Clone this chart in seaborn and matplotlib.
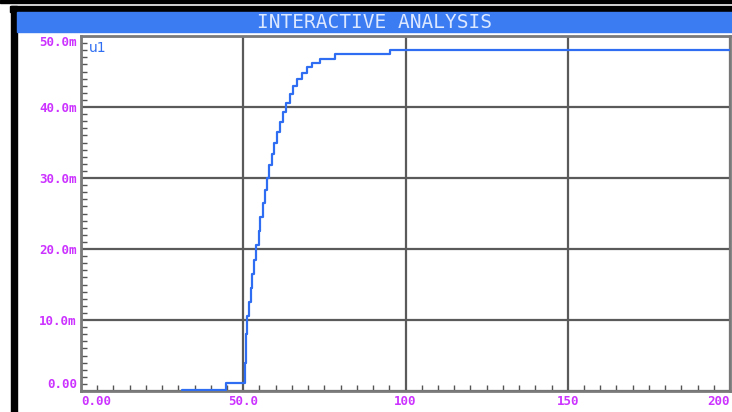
import numpy as np
import pandas as pd
import matplotlib
matplotlib.use("Agg")
import matplotlib.pyplot as plt
import seaborn as sns
from matplotlib.patches import Rectangle
from matplotlib.ticker import MultipleLocator

# ---- data (time vs u1, values in milli-units) ----
tiempo = [31.0, 44.7, 50.4, 50.8, 51.3, 51.8, 52.3, 52.8, 53.4, 54.0, 54.7,
          55.3, 56.0, 56.6, 57.3, 58.0, 58.8, 59.6, 60.4, 61.3, 62.2, 63.2,
          64.3, 65.4, 66.6, 68.0, 69.6, 71.2, 73.5, 78.2, 95.2, 200.0]
u1 = [0.2, 1.1, 4.0, 8.0, 10.5, 12.5, 14.5, 16.5, 18.5, 20.5, 22.5,
      24.5, 26.5, 28.3, 30.0, 31.8, 33.4, 35.0, 36.5, 37.9, 39.3, 40.6,
      41.8, 42.9, 43.9, 44.8, 45.6, 46.2, 46.8, 47.4, 48.0, 48.0]

x_ticks = [0, 50, 100, 150, 200]
x_labels = ['0.00', '50.0', '100', '150', '200']
y_ticks = [0, 10, 20, 30, 40, 50]
y_labels = ['0.00', '10.0m', '20.0m', '30.0m', '40.0m', '50.0m']

df = pd.DataFrame({'tiempo': tiempo, 'u1': u1})

# ---- figure ----
sns.set_style("white")
W, H = 732, 412
fig = plt.figure(figsize=(W / 100, H / 100), dpi=100)
fig.patch.set_facecolor('white')

def rect(x0, y0, x1, y1, color):
    # pixel coords (top-left origin) -> figure fraction
    fig.patches.append(Rectangle((x0 / W, 1 - y1 / H), (x1 - x0) / W, (y1 - y0) / H,
                                 transform=fig.transFigure, color=color, zorder=0))

rect(0, 0, W, 3, 'black')
rect(10, 6, W, 12, 'black')
rect(11, 6, 17, H, 'black')
rect(17, 12, W, 32, '#3c7cf2')
fig.text(375 / W, 1 - 22.5 / H, 'INTERACTIVE ANALYSIS', ha='center', va='center',
         color='#dce8ff', fontsize=14, family='DejaVu Sans Mono')

ax = fig.add_axes([81 / W, 1 - 391 / H, (730 - 81) / W, (391 - 36) / H])
ax.set_facecolor('white')

sns.lineplot(data=df, x='tiempo', y='u1', ax=ax, drawstyle='steps-post',
             estimator=None, sort=False, color='#2f6ef2', linewidth=1.6, zorder=3)

ax.set_xlim(0, 200)
ax.set_ylim(0, 50)
ax.set_xlabel('')
ax.set_ylabel('')

ax.set_xticks(x_ticks)
ax.set_xticklabels(x_labels)
ax.set_yticks(y_ticks)
ax.set_yticklabels(y_labels)
ax.xaxis.set_minor_locator(MultipleLocator(5))
ax.yaxis.set_minor_locator(MultipleLocator(1))

ax.grid(True, which='major', color='#5a5a5a', linewidth=1.6)
ax.tick_params(which='major', length=0, pad=3)
ax.tick_params(which='minor', direction='in', length=4, width=1, color='#555555',
               bottom=True, left=True, top=False, right=False)
ax.tick_params(axis='both', labelcolor='#cc33ff', labelsize=9)

for lab in ax.get_xticklabels() + ax.get_yticklabels():
    lab.set_family('DejaVu Sans Mono')
    lab.set_fontweight('bold')

xl = ax.get_xticklabels()
xl[0].set_ha('left')
xl[-1].set_ha('right')
yl = ax.get_yticklabels()
yl[0].set_va('bottom')
yl[-1].set_va('top')

for s in ax.spines.values():
    s.set_color('#7a7a7a')
    s.set_linewidth(2)

ax.text(2.5, 49.3, 'u1', color='#2f6ef2', fontsize=10, va='top', ha='left')

fig.savefig('out.png', dpi=100)
